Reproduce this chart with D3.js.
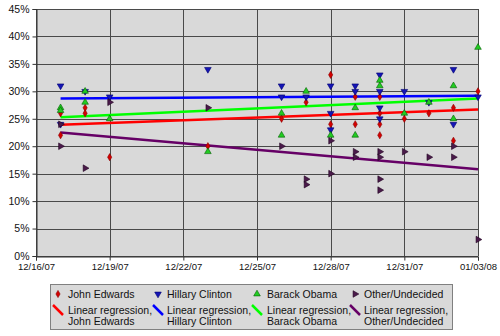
<!DOCTYPE html>
<html>
<head>
<meta charset="utf-8">
<script src="https://cdn.jsdelivr.net/npm/d3@7"></script>
<style>
  html, body { margin: 0; padding: 0; background: #fff; }
  svg { display: block; font-family: "Liberation Sans", Arial, sans-serif; }
</style>
</head>
<body>
<svg id="chart" width="500" height="336"></svg>
<script>
// Poll results per candidate: [date, percent]
const edwardsPolls = [
  ["12/17/07", 26], ["12/17/07", 22], ["12/18/07", 27], ["12/18/07", 26],
  ["12/19/07", 18], ["12/23/07", 20], ["12/26/07", 25], ["12/27/07", 28],
  ["12/28/07", 33], ["12/28/07", 24], ["12/29/07", 29], ["12/29/07", 24],
  ["12/30/07", 29], ["12/30/07", 26], ["12/30/07", 24], ["12/30/07", 22],
  ["12/31/07", 25], ["01/01/08", 26], ["01/02/08", 27], ["01/02/08", 21],
  ["01/03/08", 30]
];
const clintonPolls = [
  ["12/17/07", 31], ["12/17/07", 24], ["12/18/07", 30], ["12/19/07", 29],
  ["12/23/07", 34], ["12/26/07", 31], ["12/26/07", 29], ["12/27/07", 29],
  ["12/28/07", 31], ["12/28/07", 26], ["12/28/07", 23], ["12/29/07", 31],
  ["12/29/07", 30], ["12/30/07", 33], ["12/30/07", 30], ["12/30/07", 27],
  ["12/30/07", 25], ["12/31/07", 30], ["01/01/08", 28], ["01/02/08", 34],
  ["01/02/08", 24], ["01/03/08", 29]
];
const obamaPolls = [
  ["12/17/07", 27], ["12/17/07", 26.5], ["12/18/07", 30], ["12/18/07", 28],
  ["12/19/07", 25], ["12/23/07", 19], ["12/26/07", 26], ["12/26/07", 22],
  ["12/27/07", 30], ["12/28/07", 22], ["12/29/07", 27], ["12/29/07", 22],
  ["12/30/07", 32], ["12/30/07", 31], ["12/31/07", 26], ["01/01/08", 28],
  ["01/02/08", 31], ["01/02/08", 25], ["01/03/08", 38]
];
const otherPolls = [
  ["12/17/07", 24], ["12/17/07", 20], ["12/18/07", 16], ["12/19/07", 28],
  ["12/23/07", 27], ["12/26/07", 20], ["12/27/07", 14], ["12/27/07", 13],
  ["12/28/07", 21], ["12/28/07", 15], ["12/29/07", 19], ["12/29/07", 18],
  ["12/30/07", 19], ["12/30/07", 18], ["12/30/07", 14], ["12/30/07", 12],
  ["12/31/07", 19], ["01/01/08", 18], ["01/02/08", 20], ["01/02/08", 18],
  ["01/03/08", 3]
];

// Regression lines: value at the first and last poll date, per series
const seriesNames = ["John Edwards", "Hillary Clinton", "Barack Obama", "Other/Undecided"];
const trendDates = ["12/17/07", "01/03/08"];
const trendStart = [23.9, 28.7, 25.3, 22.5];
const trendEnd = [26.7, 29.2, 28.7, 15.8];

// Axis ticks
const xTickLabels = ["12/16/07", "12/19/07", "12/22/07", "12/25/07", "12/28/07", "12/31/07", "01/03/08"];
const yTickValues = [0, 5, 10, 15, 20, 25, 30, 35, 40, 45];

const parse = d3.timeParse("%m/%d/%y");
const fmt = d3.timeFormat("%m/%d/%y");

const series = [
  { name: seriesNames[0], polls: edwardsPolls, symbol: d3.symbolDiamond, size: 15, rot: 0,
    fill: "#d40000", stroke: "#8a0000", line: "#ff0000" },
  { name: seriesNames[1], polls: clintonPolls, symbol: d3.symbolTriangle, size: 19, rot: 180,
    fill: "#1515b5", stroke: "#000070", line: "#0000ff" },
  { name: seriesNames[2], polls: obamaPolls, symbol: d3.symbolTriangle, size: 19, rot: 0,
    fill: "#22cc22", stroke: "#006000", line: "#00ff00" },
  { name: seriesNames[3], polls: otherPolls, symbol: d3.symbolTriangle, size: 19, rot: 90,
    fill: "#4a1a4a", stroke: "#200020", line: "#660066" }
];
series.forEach((s, i) => {
  s.trend = [[trendDates[0], trendStart[i]], [trendDates[1], trendEnd[i]]];
});

const svg = d3.select("#chart");
const plot = { left: 36, right: 478, top: 9, bottom: 256 };

const x = d3.scaleTime()
  .domain([parse(xTickLabels[0]), parse(xTickLabels[xTickLabels.length - 1])])
  .range([plot.left, plot.right]);
const y = d3.scaleLinear().domain([0, 45]).range([plot.bottom, plot.top]);

// Plot background
svg.append("rect")
  .attr("x", plot.left).attr("y", plot.top)
  .attr("width", plot.right - plot.left).attr("height", plot.bottom - plot.top)
  .attr("fill", "#d9d9d9");

// Gridlines
svg.append("g")
  .selectAll("line.h").data(yTickValues).join("line")
  .attr("x1", plot.left).attr("x2", plot.right)
  .attr("y1", d => Math.round(y(d)) + 0.5).attr("y2", d => Math.round(y(d)) + 0.5)
  .attr("stroke", "#4a4a4a").attr("stroke-width", 1);
svg.append("g")
  .selectAll("line.v").data(xTickLabels.map(parse)).join("line")
  .attr("x1", d => Math.round(x(d)) + 0.5).attr("x2", d => Math.round(x(d)) + 0.5)
  .attr("y1", plot.top).attr("y2", plot.bottom)
  .attr("stroke", "#4a4a4a").attr("stroke-width", 1);

// Y axis
const yAxis = svg.append("g")
  .attr("transform", `translate(${plot.left + 0.5},0)`)
  .call(d3.axisLeft(y).tickValues(yTickValues).tickFormat(d => d + "%").tickSize(4).tickPadding(3));
yAxis.select(".domain").attr("stroke", "#333");
yAxis.selectAll(".tick line").attr("stroke", "#333");
yAxis.selectAll(".tick text").attr("font-size", "10.5px").attr("fill", "#111")
  .attr("font-family", "Liberation Sans, Arial, sans-serif");

// X axis
const xAxis = svg.append("g")
  .attr("transform", `translate(0,${plot.bottom + 0.5})`)
  .call(d3.axisBottom(x).tickValues(xTickLabels.map(parse)).tickFormat(fmt).tickSize(4).tickPadding(3));
xAxis.select(".domain").attr("stroke", "#333");
xAxis.selectAll(".tick line").attr("stroke", "#333");
xAxis.selectAll(".tick text").attr("font-size", "9.5px").attr("fill", "#111")
  .attr("font-family", "Liberation Sans, Arial, sans-serif");

// Regression lines
const lineGen = d3.line().x(d => x(parse(d[0]))).y(d => y(d[1]));
svg.append("g").selectAll("path").data(series).join("path")
  .attr("d", d => lineGen(d.trend))
  .attr("fill", "none")
  .attr("stroke", d => d.line)
  .attr("stroke-width", 2.5);

// Poll markers
series.forEach(s => {
  const sym = d3.symbol().type(s.symbol).size(s.size);
  svg.append("g").selectAll("path").data(s.polls).join("path")
    .attr("d", sym)
    .attr("transform", d => `translate(${x(parse(d[0]))},${y(d[1])}) rotate(${s.rot})`)
    .attr("fill", s.fill)
    .attr("stroke", s.stroke)
    .attr("stroke-width", 0.6);
});

// Legend
const legend = svg.append("g");
legend.append("rect")
  .attr("x", 50.5).attr("y", 284.5).attr("width", 402).attr("height", 45)
  .attr("fill", "#d9d9d9").attr("stroke", "#808080").attr("stroke-width", 1);

const colMarkerX = [58, 158, 257, 355];
const colTextX = [68, 167, 267, 364];
series.forEach((s, i) => {
  const sym = d3.symbol().type(s.symbol).size(s.size);
  legend.append("path")
    .attr("d", sym)
    .attr("transform", `translate(${colMarkerX[i]},294) rotate(${s.rot})`)
    .attr("fill", s.fill).attr("stroke", s.stroke).attr("stroke-width", 0.6);
  legend.append("text")
    .attr("x", colTextX[i]).attr("y", 297.5)
    .attr("font-size", "10.5px").attr("fill", "#111")
    .text(s.name);
  legend.append("line")
    .attr("x1", colMarkerX[i] - 5).attr("y1", 305)
    .attr("x2", colMarkerX[i] + 5).attr("y2", 315)
    .attr("stroke", s.line).attr("stroke-width", 2.5);
  legend.append("text")
    .attr("x", colTextX[i]).attr("y", 313.5)
    .attr("font-size", "10.5px").attr("fill", "#111")
    .text("Linear regression,");
  legend.append("text")
    .attr("x", colTextX[i]).attr("y", 324.5)
    .attr("font-size", "10.5px").attr("fill", "#111")
    .text(s.name);
});
</script>
</body>
</html>
